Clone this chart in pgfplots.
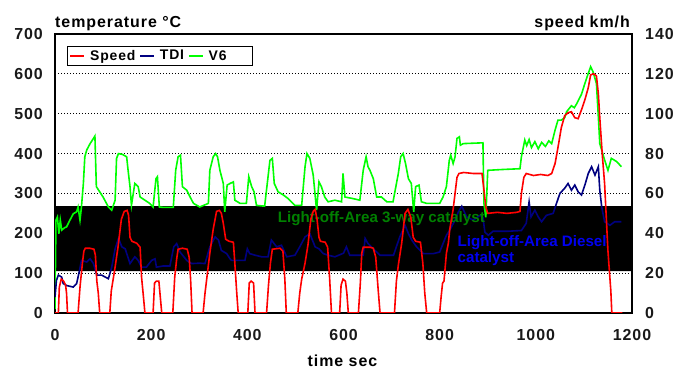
\documentclass[border=0pt]{standalone}
\usepackage{fontspec}
\setmainfont{Liberation Sans}
\newfontfamily\spaced{Liberation Sans}[LetterSpace=6]
\usepackage{pgfplots}
\pgfplotsset{compat=1.18}
\usepackage{pgfplotstable}

\definecolor{speedred}{RGB}{255,0,0}
\definecolor{tdiblue}{RGB}{0,0,128}
\definecolor{vsixgreen}{RGB}{0,255,0}
\definecolor{darkgreen}{RGB}{0,128,0}
\definecolor{textblue}{RGB}{0,0,240}

\newcommand\lbl{\spaced\fontsize{16}{18}\selectfont\bfseries}
\newcommand\lgd{\spaced\fontsize{14}{16}\selectfont\bfseries}
\newcommand\ann{\fontsize{15.2}{18}\selectfont\bfseries}

% vehicle speed over the driving cycle (time s, speed km/h)
\pgfplotstableread{
t v
0 0
7 0
9 13
13 17
18 16
22 14
24 10
26 0
48 0
52 13
57 25
60 31
63 32.5
72 32.5
81 32
84 29
87 16
90 10
93 0
114 0
117 11
121 17
125 23
131 33
138 47
144 51
150 51.5
153 49
156 38
160 36
170 35
177 33
180 18
184 8
187 0
204 0
207 15
211 16
216 16
219 8
222 0
245 0
249 18
253 27
256 32
265 32.5
275 32
279 28
282 17
285 0
308 0
312 10
315 16
322 30
329 42
336 51
342 51.5
346 50
350 45
355 37
362 36
371 35.5
374 25
378 10
381 0
401 0
404 15
408 16
413 15
416 0
440 0
444 14
448 25
452 32
468 32.5
474 31
478 17
481 0
505 0
509 10
513 17
520 25
526 34
532 47
537 51
541 52
545 47
549 38
552 36
562 35.5
567 33
571 18
575 0
592 0
595 14
599 17
604 16
607 10
610 0
631 0
635 15
638 30
641 33
655 33
662 32.5
667 28
672 12
676 0
706 0
710 16
714 24
721 35
728 50
734 52
740 48
745 38
750 36
760 35.5
765 25
769 10
773 0
800 0
803 8
806 15
809 16
814 30
818 35
821 42
828 52
832 60
836 68
840 70
850 70.5
870 70
888 70
892 62
896 53
900 50
920 50.5
940 50
960 50.5
967 51
970 60
975 68
980 70
995 69
1010 69.5
1025 69
1033 70
1040 75
1046 83
1053 93
1060 99
1067 100.5
1074 101
1081 98
1088 97.5
1095 102
1102 107
1109 113
1114 119.5
1120 120
1126 119
1130 110
1133 98
1138 80
1143 65
1150 31
1156 11
1158 0
1180 0
}\speeddata

% catalyst temperature, TDI engine (time s, temperature degC)
\pgfplotstableread{
t T
0 40
3 82
7 95
14 90
17 74
24 69
38 65
45 74
51 107
55 132
66 128
73 136
80 124
87 95
97 95
111 86
118 115
125 161
132 187
139 166
146 161
156 124
166 141
173 132
180 115
190 115
201 132
208 136
211 115
225 118
239 118
247 166
253 174
260 153
274 132
284 124
301 125
312 124
322 166
333 191
340 183
346 157
357 149
364 136
367 132
395 132
400 161
405 149
416 145
430 141
443 141
450 183
461 166
471 170
482 141
499 145
509 166
520 191
530 199
541 166
549 161
558 149
568 145
582 141
600 150
606 166
613 145
641 145
645 187
651 174
662 161
676 145
704 145
717 191
728 220
735 199
742 183
752 166
766 149
787 149
800 153
807 174
814 195
821 208
832 233
839 254
846 268
856 241
870 233
884 245
890 240
894 203
901 195
911 205
940 205
970 207
980 225
986 279
990 241
998 258
1005 241
1012 229
1022 245
1036 250
1043 275
1050 300
1060 313
1067 325
1074 308
1081 321
1088 304
1095 296
1102 321
1109 350
1116 367
1123 346
1130 367
1133 308
1137 266
1143 229
1154 220
1164 229
1178 229
}\tdidata

% catalyst temperature, V6 engine (time s, temperature degC)
\pgfplotstableread{
t T
0 10
2 233
5 241
8 199
11 233
14 208
20 214
24 216
31 233
38 249
45 254
48 266
52 233
55 266
59 325
62 392
66 409
73 425
80 438
83 444
86 317
93 304
100 291
111 266
118 258
125 283
128 388
132 400
140 398
149 392
152 358
156 317
159 270
166 325
173 317
177 291
187 283
197 275
204 266
210 337
213 342
217 266
225 265
246 265
251 358
256 392
261 396
265 317
274 308
281 291
288 275
301 266
319 275
322 358
329 392
334 400
338 392
343 358
350 325
353 254
358 321
364 325
371 329
374 283
385 275
398 275
403 342
409 317
414 304
419 270
436 268
447 383
452 388
456 325
464 304
475 296
485 287
499 270
513 270
520 367
524 400
530 388
537 346
544 258
549 329
554 317
561 291
568 279
582 283
596 279
599 350
603 291
620 287
634 283
641 358
647 392
651 367
655 358
662 337
669 291
679 291
690 279
703 279
714 350
719 392
724 400
729 375
735 337
741 325
746 254
750 317
757 321
762 279
773 275
800 275
807 291
814 317
820 383
823 396
828 375
832 392
836 438
841 442
843 421
849 425
890 427
892 275
896 240
900 358
930 360
967 362
970 392
977 434
981 420
986 435
991 415
998 430
1005 412
1012 428
1020 418
1027 432
1033 425
1040 459
1046 484
1053 484
1060 490
1064 505
1074 520
1080 515
1085 525
1095 549
1102 576
1109 601
1114 618
1119 605
1126 576
1130 492
1133 425
1143 384
1150 358
1157 388
1168 380
1178 367
}\vsixdata

\pgfplotsset{
  base/.style={
    at={(55bp,56bp)}, anchor=south west,
    width=577bp, height=279bp, scale only axis,
    xmin=0, xmax=1200,
    major tick length=0pt,
    /pgf/number format/assume math mode=true,
    /pgf/number format/1000 sep={},
    ticklabel style={font=\lbl, text=black!90, inner sep=0pt},
  },
}

\begin{document}
\begin{tikzpicture}
\path[use as bounding box] (0,0) rectangle (677bp,369bp);

% temperature axis (left)
\begin{axis}[base,
  ymin=0, ymax=700,
  ytick={0,100,...,700},
  xtick={0,200,...,1200},
  yticklabel style={anchor=east, xshift=-12bp},
  xticklabel style={anchor=north, yshift=-16bp},
  axis line style={line width=1.6bp, black},
  ymajorgrids,
  major grid style={black, line width=1.2bp, dash pattern=on 1.2bp off 1.8bp},
  legend style={at={(axis description cs:0.0208,0.957)}, anchor=north west,
    draw=black, line width=1.2bp, font=\lgd, inner xsep=2bp, inner ysep=1.5bp,
    /tikz/every even column/.append style={column sep=2bp},
    /tikz/every odd column/.append style={column sep=3bp},
    cells={anchor=west}},
  legend columns=3,
  legend image code/.code={\draw[#1, line width=1.6bp] (0bp,0bp) -- (14bp,0bp);},
]
  % light-off band of the catalysts
  \addplot[fill=black, draw=none, forget plot]
    coordinates {(0,105) (1200,105) (1200,268) (0,268) (0,105)};
  \addlegendimage{draw=speedred}
  \addlegendentry{Speed}
  \addplot[vsixgreen, line width=1.6bp, forget plot] table[x=t, y=T] {\vsixdata};
  \addplot[tdiblue, line width=1.6bp, forget plot] table[x=t, y=T] {\tdidata};
  \addlegendimage{draw=tdiblue}
  \addlegendentry{TDI}
  \addlegendimage{draw=vsixgreen}
  \addlegendentry{\makebox[40bp][l]{V6}}
  \node[anchor=west, text=darkgreen, font=\ann, inner sep=0pt] at (axis cs:463,237)
    {Light-off-Area 3-way catalyst};
  \node[anchor=north west, text=textblue, font=\ann, inner sep=0pt, align=left]
    at (axis cs:837,196) {Light-off-Area Diesel\\[-1bp]catalyst};
\end{axis}

% speed axis (right)
\begin{axis}[base,
  ymin=0, ymax=140,
  ytick={0,20,...,140},
  axis y line*=right,
  axis x line=none,
  axis line style={draw=none},
  yticklabel style={anchor=west, xshift=13bp},
]
  \addplot[speedred, line width=1.6bp] table[x=t, y=v] {\speeddata};
\end{axis}

\node[anchor=base west, font=\lbl, inner sep=0pt] at (55bp,341.5bp) {temperature °C};
\node[anchor=base east, font=\lbl, inner sep=0pt] at (630bp,341.5bp) {speed km/h};
\node[anchor=base, font=\lbl, inner sep=0pt] at (342.5bp,2.5bp) {time sec};
\end{tikzpicture}
\end{document}
